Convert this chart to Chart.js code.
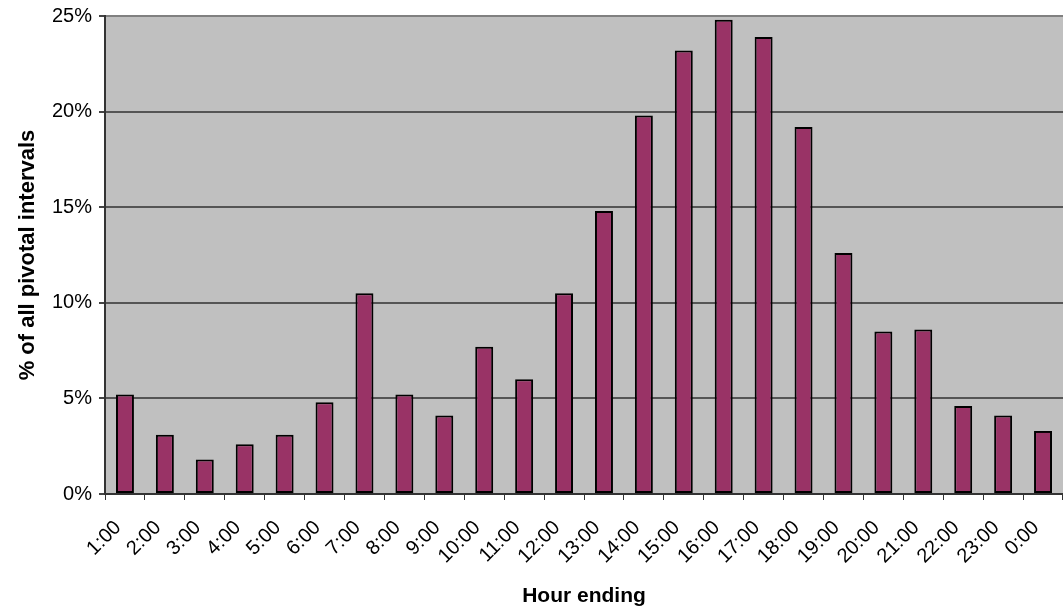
<!DOCTYPE html>
<html>
<head>
<meta charset="utf-8">
<script src="https://cdn.jsdelivr.net/npm/chart.js@4.4.0/dist/chart.umd.min.js"></script>
<style>
  html, body { margin: 0; padding: 0; background: #fff; }
  #wrap { width: 1063px; height: 615px; }
</style>
</head>
<body>
<div id="wrap"><canvas id="hourChart" width="1063" height="615"></canvas></div>
<script>
// hour ending labels
const hours = ['1:00', '2:00', '3:00', '4:00', '5:00', '6:00', '7:00', '8:00', '9:00', '10:00', '11:00', '12:00',
  '13:00', '14:00', '15:00', '16:00', '17:00', '18:00', '19:00', '20:00', '21:00', '22:00', '23:00', '0:00'];
// % of all pivotal intervals
const shares = [5.2, 3.1, 1.8, 2.6, 3.1, 4.8, 10.5, 5.2, 4.1, 7.7, 6.0, 10.5,
  14.8, 19.8, 23.2, 24.8, 23.9, 19.2, 12.6, 8.5, 8.6, 4.6, 4.1, 3.3];
const yTicks = [0, 5, 10, 15, 20, 25];

const plotBg = {
  id: 'plotBg',
  beforeDraw(chart) {
    const {ctx, chartArea: a} = chart;
    ctx.save();
    ctx.fillStyle = '#c0c0c0';
    ctx.fillRect(a.left, a.top, a.right - a.left, a.bottom - a.top);
    ctx.restore();
  }
};

const data = {
  labels: hours,
  datasets: [{
    data: shares,
    backgroundColor: '#993366',
    borderColor: '#000000',
    borderWidth: 2,
    borderSkipped: false,
    categoryPercentage: 1,
    barPercentage: 0.45
  }]
};

const config = {
  type: 'bar',
  data,
  plugins: [plotBg],
  options: {
    responsive: false,
    animation: false,
    devicePixelRatio: 1,
    layout: { padding: { top: 16, right: 0, left: 0, bottom: 0 } },
    plugins: { legend: { display: false }, tooltip: { enabled: false } },
    scales: {
      x: {
        afterFit: s => { s.height = 121; s.paddingLeft = 0; s.paddingRight = 0; },
        grid: { offset: true, drawOnChartArea: false, tickLength: 6, tickColor: '#333', lineWidth: 1 },
        border: { color: '#333', width: 2 },
        ticks: {
          color: '#000',
          font: { family: 'Liberation Sans, Arial', size: 20 },
          minRotation: 45, maxRotation: 45, padding: 16, labelOffset: -7, autoSkip: false
        },
        title: {
          display: true, text: 'Hour ending', color: '#000',
          font: { family: 'Liberation Sans, Arial', size: 21, weight: 'bold' },
          padding: { top: 0, bottom: 6 }
        }
      },
      y: {
        min: 0, max: 25,
        afterFit: s => { s.width = 105; s.paddingTop = 0; s.paddingBottom = 0; },
        afterBuildTicks: s => { s.ticks = yTicks.map(v => ({ value: v })); },
        grid: {
          color: ctx => ctx.tick && ctx.tick.value === 25 ? '#808080' : '#555',
          lineWidth: 2, tickLength: 6, tickColor: '#444'
        },
        border: { color: '#333', width: 2 },
        ticks: {
          color: '#000',
          font: { family: 'Liberation Sans, Arial', size: 20 },
          padding: 7,
          callback: v => v + '%'
        },
        title: {
          display: true, text: '% of all pivotal intervals', color: '#000',
          font: { family: 'Liberation Sans, Arial', size: 22, weight: 'bold' },
          padding: { top: 15, bottom: 0 }
        }
      }
    }
  }
};

var hourChart = new Chart(document.getElementById('hourChart'), config);
</script>
</body>
</html>
